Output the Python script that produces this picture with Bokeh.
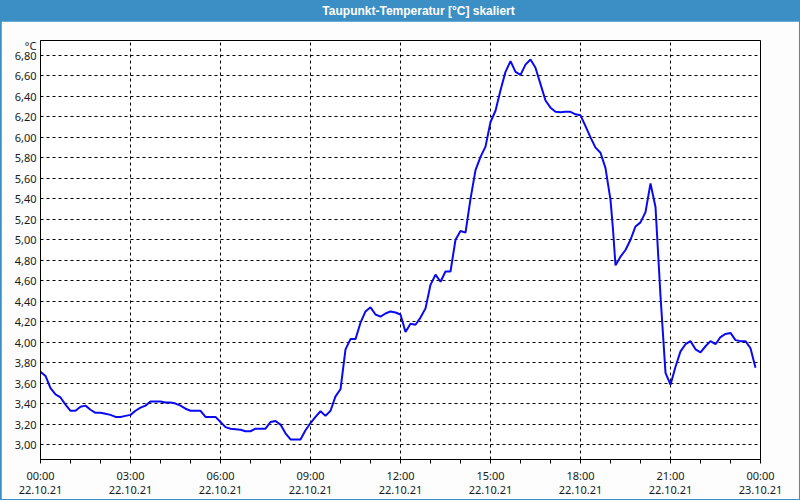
from bokeh.plotting import figure
from bokeh.layouts import column
from bokeh.models import Range1d, FixedTicker
from bokeh.core.properties import value
from bokeh.embed import file_html
from bokeh.resources import INLINE

TITLE = "Taupunkt-Temperatur [°C] skaliert"
UNIT = "°C"

minutes = [0, 10, 20, 30, 40, 50, 60, 70, 80, 90, 100, 110, 120, 130, 140, 150, 160, 170, 180, 190,
           200, 210, 220, 230, 240, 250, 260, 270, 280, 290, 300, 310, 320, 330, 340, 350, 360, 370, 380, 390,
           400, 410, 420, 430, 440, 450, 460, 470, 480, 490, 500, 510, 520, 530, 540, 550, 560, 570, 580, 590,
           600, 610, 620, 630, 640, 650, 660, 670, 680, 690, 700, 710, 720, 730, 740, 750, 760, 770, 780, 790,
           800, 810, 820, 830, 840, 850, 860, 870, 880, 890, 900, 910, 920, 930, 940, 950, 960, 970, 980, 990,
           1000, 1010, 1020, 1030, 1040, 1050, 1060, 1070, 1080, 1090, 1100, 1110, 1120, 1130, 1140, 1145, 1150, 1160, 1170, 1180,
           1190, 1200, 1210, 1220, 1230, 1240, 1250, 1260, 1270, 1280, 1290, 1300, 1310, 1320, 1330, 1340, 1350, 1360, 1370, 1380,
           1390, 1400, 1410, 1420, 1430]
temps = [3.71, 3.67, 3.55, 3.49, 3.46, 3.39, 3.33, 3.33, 3.37, 3.38, 3.34, 3.31, 3.31, 3.30, 3.29, 3.27, 3.27, 3.28, 3.29, 3.33,
         3.36, 3.38, 3.42, 3.42, 3.42, 3.41, 3.41, 3.40, 3.38, 3.35, 3.33, 3.33, 3.33, 3.27, 3.27, 3.27, 3.22, 3.17, 3.155, 3.15,
         3.145, 3.13, 3.13, 3.155, 3.155, 3.155, 3.22, 3.23, 3.195, 3.11, 3.05, 3.05, 3.05, 3.14, 3.21, 3.27, 3.325, 3.28, 3.33, 3.47,
         3.54, 3.93, 4.03, 4.03, 4.19, 4.30, 4.34, 4.27, 4.25, 4.28, 4.30, 4.29, 4.27, 4.10, 4.18, 4.17, 4.24, 4.33, 4.56, 4.66,
         4.59, 4.69, 4.69, 5.00, 5.085, 5.07, 5.40, 5.68, 5.81, 5.91, 6.15, 6.26, 6.46, 6.64, 6.745, 6.64, 6.61, 6.71, 6.76, 6.68,
         6.52, 6.36, 6.29, 6.25, 6.245, 6.25, 6.25, 6.225, 6.215, 6.11, 6.00, 5.90, 5.85, 5.70, 5.39, 5.10, 4.75, 4.835, 4.90, 5.00,
         5.13, 5.17, 5.27, 5.55, 5.32, 4.45, 3.70, 3.585, 3.76, 3.91, 3.98, 4.01, 3.93, 3.90, 3.96, 4.01, 3.98, 4.05, 4.08, 4.09,
         4.02, 4.01, 4.01, 3.94, 3.75]

y_ticks = [3.0, 3.2, 3.4, 3.6, 3.8, 4.0, 4.2, 4.4, 4.6, 4.8, 5.0, 5.2, 5.4, 5.6, 5.8, 6.0, 6.2, 6.4, 6.6, 6.8]
y_labels = ["3,00", "3,20", "3,40", "3,60", "3,80", "4,00", "4,20", "4,40", "4,60", "4,80",
            "5,00", "5,20", "5,40", "5,60", "5,80", "6,00", "6,20", "6,40", "6,60", "6,80"]
unit_pos = 6.9
x_ticks = [0, 3, 6, 9, 12, 15, 18, 21, 24]
x_labels = ["00:00\n22.10.21", "03:00\n22.10.21", "06:00\n22.10.21", "09:00\n22.10.21",
            "12:00\n22.10.21", "15:00\n22.10.21", "18:00\n22.10.21", "21:00\n22.10.21",
            "00:00\n23.10.21"]
x_minor = [h for h in range(25) if h % 3 != 0]

BLUE = "#3c8fc4"
FONT = "Noto Sans"

hours = [m / 60.0 for m in minutes]

# title bar
t = figure(width=800, height=21, output_backend="svg", toolbar_location=None,
           x_range=Range1d(0, 800), y_range=Range1d(0, 21),
           min_border=0, min_border_left=0, min_border_right=0, min_border_top=0, min_border_bottom=0)
t.axis.visible = False
t.grid.visible = False
t.outline_line_color = None
t.background_fill_color = BLUE
t.border_fill_color = BLUE
t.text(x=[420], y=[10.5], text=[TITLE], text_align="center", text_baseline="middle",
       text_color="white", text_font=value("Liberation Sans"), text_font_style="bold",
       text_font_size="12px")

p = figure(width=798, height=478, output_backend="svg", toolbar_location=None,
           x_range=Range1d(0, 24), y_range=Range1d(2.854, 6.946),
           min_border_left=39, min_border_right=39, min_border_top=19, min_border_bottom=39,
           margin=(0, 1, 1, 1))
p.background_fill_color = "white"
p.border_fill_color = "#fcfdfc"
p.outline_line_color = "black"
p.outline_line_width = 1

p.line(hours, temps, line_color="#0a0aee", line_width=2)

p.xaxis.ticker = FixedTicker(ticks=x_ticks, minor_ticks=x_minor)
p.xaxis.major_label_overrides = {tk: lb for tk, lb in zip(x_ticks, x_labels)}
p.xaxis.major_tick_out = 4
p.xaxis.major_tick_in = 0
p.xaxis.minor_tick_out = 4
p.xaxis.minor_tick_in = 0
p.xaxis.major_label_standoff = 4
p.xaxis.major_label_text_font = FONT
p.xaxis.major_label_text_font_size = "11px"
p.xaxis.major_label_text_color = "#1a1a1a"
p.xaxis.major_label_text_line_height = 0.95
p.xaxis.axis_line_color = "black"
p.xaxis.major_tick_line_color = "black"
p.xaxis.minor_tick_line_color = "black"

p.yaxis.ticker = FixedTicker(ticks=y_ticks + [unit_pos])
overrides = {tk: lb for tk, lb in zip(y_ticks, y_labels)}
overrides[unit_pos] = UNIT
p.yaxis.major_label_overrides = overrides
p.yaxis.major_tick_out = 0
p.yaxis.major_tick_in = 0
p.yaxis.minor_tick_out = 0
p.yaxis.minor_tick_in = 0
p.yaxis.major_label_standoff = 4
p.yaxis.major_label_text_font = FONT
p.yaxis.major_label_text_font_size = "11px"
p.yaxis.major_label_text_color = "#1a1a1a"
p.yaxis.axis_line_color = "black"

for g in (p.xgrid, p.ygrid):
    g.grid_line_color = "black"
    g.grid_line_dash = "3 3"
    g.grid_line_width = 1
p.ygrid.ticker = FixedTicker(ticks=y_ticks)
p.xgrid.ticker = FixedTicker(ticks=x_ticks[1:-1])

layout = column(t, p, spacing=0, styles={"background-color": BLUE})
open("out.html", "w").write(file_html(layout, INLINE))
